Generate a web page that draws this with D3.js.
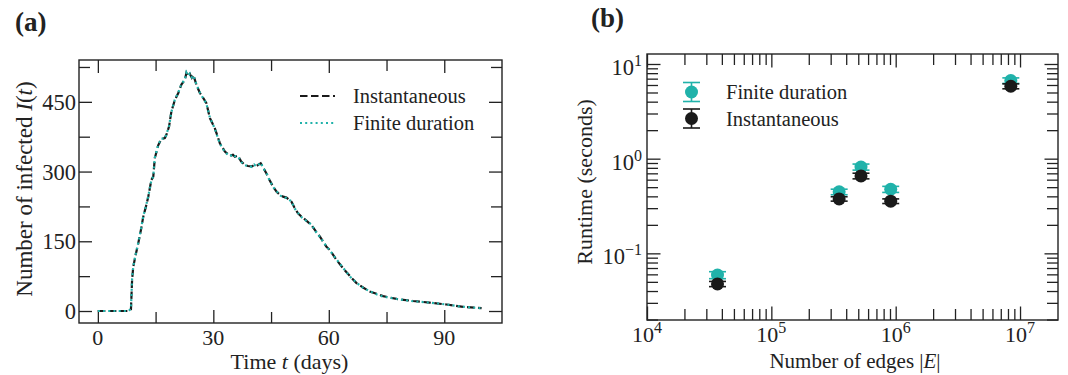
<!DOCTYPE html>
<html lang="en">
<head>
    <meta charset="UTF-8">
    <title>Infected over time and runtime</title>
    <style>
        body { margin: 0; background: #fff; }
        svg text { font-family: "Liberation Serif", "DejaVu Serif", serif; fill: #222; }
        .domain { display: none; }
        .tick line { stroke: #222; stroke-width: 1.3; }
    </style>
</head>
<body>
    <svg width="1068" height="375"></svg>

    <script src="https://d3js.org/d3.v7.min.js"></script>
    <script>
        // panel (a) - number of infected I(t)
        let days = [0, 2, 4, 6, 8, 8.6, 8.9, 9.2, 9.8, 10.5, 11.2, 11.8, 12.5, 13.1, 13.9, 14.4, 14.8, 15.7,
            16.5, 17.4, 17.8, 18.5, 19.1, 20.0, 20.9, 21.7, 22.6, 23.0, 23.4, 23.9, 24.4, 24.8, 25.6, 26.5,
            27.4, 28.2, 29.1, 30.4, 31.7, 33.0, 34.3, 35.1, 35.6, 36.4, 37.2, 38.2, 39.0, 40.0, 40.6, 41.2,
            42.3, 43.0, 43.8, 44.6, 45.5, 46.4, 47.3, 48.1, 49.0, 50.3, 51.1, 52.0, 52.9, 53.8, 55.5, 56.6,
            57.7, 59.4, 60.3, 62.0, 63.7, 65.5, 67.2, 69.0, 70.6, 72.4, 74.1, 77.6, 81.9, 86.2, 90.6, 94.9, 99.7];
        let instantaneous = [0, 0, 0, 0, 0, 4, 68, 95, 120, 146, 175, 203, 225, 246, 282, 289, 329, 357,
            370, 372, 379, 397, 429, 454, 469, 487, 497, 512, 505, 510, 502, 508, 487, 469,
            458, 447, 415, 393, 361, 343, 334, 336, 332, 334, 322, 314, 312, 311, 314, 312,
            318, 308, 296, 282, 268, 257, 250, 246, 244, 235, 222, 210, 203, 197, 185, 172,
            160, 138, 131, 110, 92, 75, 60, 50, 42, 37, 32, 26, 21.5, 18, 14, 9, 6];
        let finiteDuration = [0, 0, 0, 0, 0, 5, 70, 96, 121, 147, 176, 204, 226, 247, 281, 290, 330, 358,
            371, 371, 380, 398, 428, 455, 470, 488, 498, 513, 506, 511, 503, 507, 488, 470,
            457, 446, 416, 392, 360, 342, 333, 337, 333, 333, 321, 313, 313, 310, 315, 311,
            319, 307, 297, 281, 267, 258, 249, 245, 243, 236, 221, 211, 202, 196, 186, 171,
            159, 139, 130, 111, 93, 74, 61, 49, 43, 36, 31, 26, 21, 18, 14, 9, 6];
        let xTicksA = [0, 30, 60, 90];
        let xMinorA = [15, 45, 75];
        let yTicksA = [0, 150, 300, 450];
        let yMinorA = [75, 225, 375, 525];

        // panel (b) - runtime against number of edges
        let edges = [36900, 351000, 526000, 912000, 8430000];
        let runtimeFinite = [0.059, 0.446, 0.817, 0.475, 6.68];
        let errFinite = [0.005, 0.03, 0.06, 0.035, 0.45];
        let runtimeInst = [0.0475, 0.376, 0.657, 0.356, 5.82];
        let errInst = [0.003, 0.02, 0.045, 0.02, 0.35];
        let xDecadesB = [1e4, 1e5, 1e6, 1e7];
        let yDecadesB = [0.1, 1, 10];

        let teal = "#20b2aa";
        let dark = "#1a1a1a";
        let svg = d3.select("svg");

        // ---------- panel (a) ----------
        let ax = { left: 79, right: 502, top: 60, bottom: 323 };
        let xa = d3.scaleLinear().domain([-4.9, 105]).range([ax.left, ax.right]);
        let ya = d3.scaleLinear().domain([-25.8, 540]).range([ax.bottom, ax.top]);
        let ga = svg.append("g");

        function inwardAxes(g, box, xs, ys, xMaj, xMin, yMaj, yMin, majLen, minLen) {
            g.append("g").attr("transform", "translate(0," + box.bottom + ")")
                .call(d3.axisBottom(xs).tickValues(xMaj).tickSize(-majLen).tickFormat(""));
            g.append("g").attr("transform", "translate(0," + box.bottom + ")")
                .call(d3.axisBottom(xs).tickValues(xMin).tickSize(-minLen).tickFormat(""));
            g.append("g").attr("transform", "translate(0," + box.top + ")")
                .call(d3.axisTop(xs).tickValues(xMaj).tickSize(-majLen).tickFormat(""));
            g.append("g").attr("transform", "translate(0," + box.top + ")")
                .call(d3.axisTop(xs).tickValues(xMin).tickSize(-minLen).tickFormat(""));
            g.append("g").attr("transform", "translate(" + box.left + ",0)")
                .call(d3.axisLeft(ys).tickValues(yMaj).tickSize(-majLen).tickFormat(""));
            g.append("g").attr("transform", "translate(" + box.left + ",0)")
                .call(d3.axisLeft(ys).tickValues(yMin).tickSize(-minLen).tickFormat(""));
            g.append("g").attr("transform", "translate(" + box.right + ",0)")
                .call(d3.axisRight(ys).tickValues(yMaj).tickSize(-majLen).tickFormat(""));
            g.append("g").attr("transform", "translate(" + box.right + ",0)")
                .call(d3.axisRight(ys).tickValues(yMin).tickSize(-minLen).tickFormat(""));
            g.append("rect")
                .attr("x", box.left).attr("y", box.top)
                .attr("width", box.right - box.left).attr("height", box.bottom - box.top)
                .attr("fill", "none").attr("stroke", "#222").attr("stroke-width", 1.4);
        }

        inwardAxes(ga, ax, xa, ya, xTicksA, xMinorA, yTicksA, yMinorA, 13, 11);

        ga.selectAll(".xlab").data(xTicksA).enter().append("text")
            .attr("x", d => xa(d)).attr("y", ax.bottom + 22)
            .attr("text-anchor", "middle").attr("font-size", 22).text(d => d);
        ga.selectAll(".ylab").data(yTicksA).enter().append("text")
            .attr("x", ax.left - 3).attr("y", d => ya(d) + 8)
            .attr("text-anchor", "end").attr("font-size", 22.5).text(d => d);

        let lineA = d3.line().x(d => xa(d[0])).y(d => ya(d[1]));
        ga.append("path")
            .attr("d", lineA(days.map((t, i) => [t, instantaneous[i]])))
            .attr("fill", "none").attr("stroke", dark).attr("stroke-width", 2.2)
            .attr("stroke-dasharray", "7.5,3.5");
        ga.append("path")
            .attr("d", lineA(days.map((t, i) => [t, finiteDuration[i]])))
            .attr("fill", "none").attr("stroke", teal).attr("stroke-width", 2.2)
            .attr("stroke-dasharray", "2,3.2");

        // legend (a)
        let legA = [
            { label: "Instantaneous", color: dark, dash: "7.5,3.5", y: 96 },
            { label: "Finite duration", color: teal, dash: "2,3.2", y: 123 }
        ];
        legA.forEach(function (d) {
            ga.append("line").attr("x1", 300).attr("x2", 335).attr("y1", d.y).attr("y2", d.y)
                .attr("stroke", d.color).attr("stroke-width", 2.2).attr("stroke-dasharray", d.dash);
            ga.append("text").attr("x", 353).attr("y", d.y + 7).attr("font-size", 20.5).text(d.label);
        });

        ga.append("text").attr("x", (ax.left + ax.right) / 2 - 1).attr("y", 369)
            .attr("text-anchor", "middle").attr("font-size", 22)
            .html('Time <tspan font-style="italic">t</tspan> (days)');
        ga.append("text").attr("transform", "translate(32,189) rotate(-90)")
            .attr("text-anchor", "middle").attr("font-size", 23)
            .html('Number of infected <tspan font-style="italic">I</tspan>(<tspan font-style="italic">t</tspan>)');
        ga.append("text").attr("x", 15).attr("y", 31).attr("font-size", 27).attr("font-weight", "bold").text("(a)");

        // ---------- panel (b) ----------
        let bx = { left: 647, right: 1058, top: 54, bottom: 320 };
        let xb = d3.scaleLog().domain([1e4, 2.02e7]).range([bx.left, bx.right]);
        let yb = d3.scaleLog().domain([0.01977, 12.75]).range([bx.bottom, bx.top]);
        let gb = svg.append("g");

        let xMinorB = [];
        [1e4, 1e5, 1e6].forEach(dec => d3.range(2, 10).forEach(m => xMinorB.push(m * dec)));
        let yMinorB = [];
        [0.01, 0.1, 1].forEach(dec => d3.range(2, 10).forEach(m => {
            let v = m * dec;
            if (v >= 0.02 && v <= 12) yMinorB.push(v);
        }));

        inwardAxes(gb, bx, xb, yb, xDecadesB, xMinorB, yDecadesB, yMinorB, 13.5, 11);

        function powLabel(v) {
            let e = Math.round(Math.log10(v));
            return '10<tspan dy="-9" font-size="16">' + (e < 0 ? "\u2212" + (-e) : e) + '</tspan>';
        }
        gb.selectAll(".xlab").data(xDecadesB).enter().append("text")
            .attr("x", d => xb(d)).attr("y", bx.bottom + 22)
            .attr("text-anchor", "middle").attr("font-size", 22).html(powLabel);
        gb.selectAll(".ylab").data(yDecadesB).enter().append("text")
            .attr("x", bx.left - 5).attr("y", d => yb(d) + 11)
            .attr("text-anchor", "end").attr("font-size", 22.5).html(powLabel);

        function drawSeries(vals, errs, color) {
            let g = gb.append("g");
            vals.forEach(function (v, i) {
                let cx = xb(edges[i]);
                let y0 = yb(v - errs[i]), y1 = yb(v + errs[i]);
                g.append("line").attr("x1", cx).attr("x2", cx).attr("y1", y0).attr("y2", y1)
                    .attr("stroke", color).attr("stroke-width", 1.6);
                [y0, y1].forEach(yy => g.append("line")
                    .attr("x1", cx - 8.5).attr("x2", cx + 8.5).attr("y1", yy).attr("y2", yy)
                    .attr("stroke", color).attr("stroke-width", 1.6));
                g.append("circle").attr("cx", cx).attr("cy", yb(v)).attr("r", 6.5).attr("fill", color);
            });
        }
        drawSeries(runtimeFinite, errFinite, teal);
        drawSeries(runtimeInst, errInst, dark);

        // legend (b)
        let legB = [
            { label: "Finite duration", color: teal, y: 92 },
            { label: "Instantaneous", color: dark, y: 118.5 }
        ];
        legB.forEach(function (d) {
            let cx = 691.5;
            gb.append("line").attr("x1", cx).attr("x2", cx).attr("y1", d.y - 9.5).attr("y2", d.y + 9.5)
                .attr("stroke", d.color).attr("stroke-width", 1.6);
            [d.y - 9.5, d.y + 9.5].forEach(yy => gb.append("line")
                .attr("x1", cx - 8.5).attr("x2", cx + 8.5).attr("y1", yy).attr("y2", yy)
                .attr("stroke", d.color).attr("stroke-width", 1.6));
            gb.append("circle").attr("cx", cx).attr("cy", d.y).attr("r", 6.5).attr("fill", d.color);
            gb.append("text").attr("x", 726).attr("y", d.y + 7).attr("font-size", 20.5).text(d.label);
        });

        gb.append("text").attr("x", 855).attr("y", 368)
            .attr("text-anchor", "middle").attr("font-size", 21)
            .html('Number of edges |<tspan font-style="italic">E</tspan>|');
        gb.append("text").attr("transform", "translate(592,182) rotate(-90)")
            .attr("text-anchor", "middle").attr("font-size", 22).text("Runtime (seconds)");
        gb.append("text").attr("x", 591).attr("y", 27).attr("font-size", 27).attr("font-weight", "bold").text("(b)");
    </script>
</body>
</html>
